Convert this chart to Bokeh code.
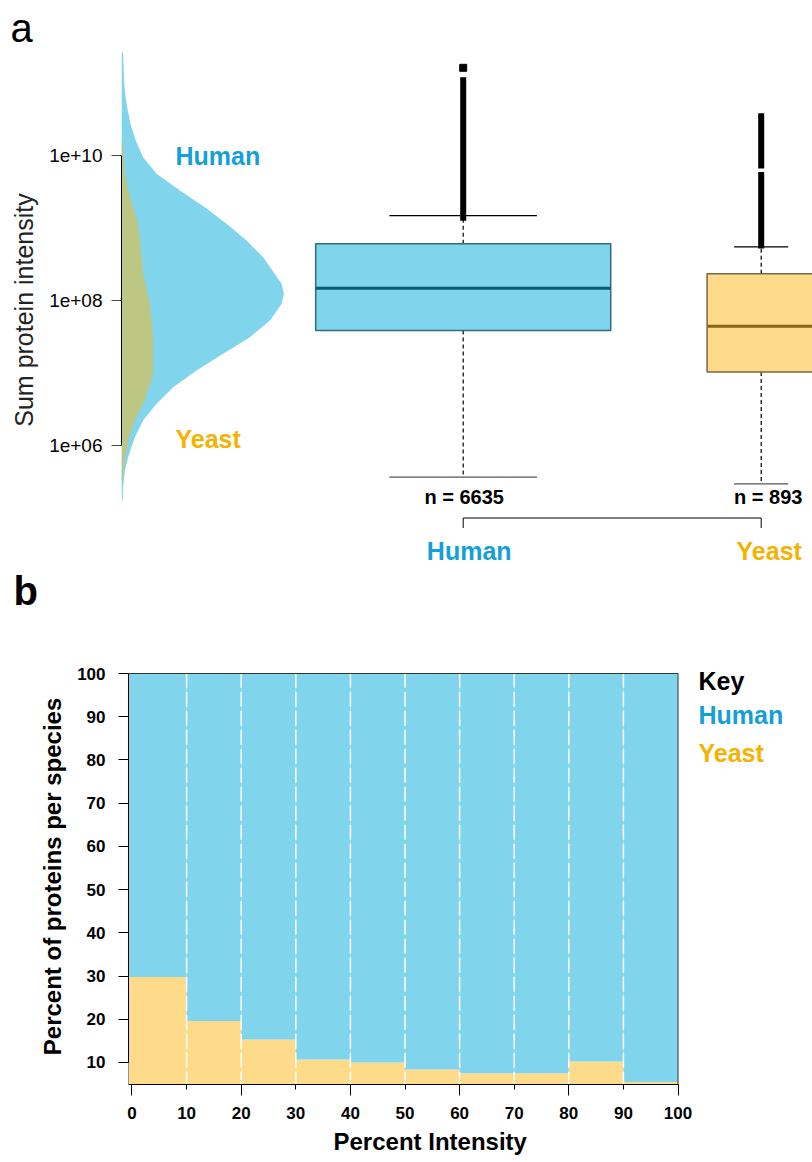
import math
from bokeh.plotting import figure
from bokeh.models import Range1d, LinearAxis, FixedTicker, Label, Title
from bokeh.embed import file_html
from bokeh.resources import INLINE

FONT = "Liberation Sans"

# ---------------- panel a data ----------------
species = ["Human", "Yeast"]
species_pos = [1, 2]
n_proteins = [6635, 893]
box_q1 = [3.86e7, 1.03e7]
box_median = [1.48e8, 4.41e7]
box_q3 = [6.05e8, 2.33e8]
whisker_low = [3.66e5, 2.96e5]
whisker_high = [1.48e9, 5.5e8]
human_outlier_runs_low = [1.26e9]
human_outlier_runs_high = [1.20e11]
human_outlier_points = [1.62e11]
yeast_outlier_runs_low = [5.2e8, 6.6e9]
yeast_outlier_runs_high = [5.9e9, 3.83e10]

# kernel densities (log10 intensity vs relative density)
human_log10 = [11.448, 11.403, 11.127, 10.897, 10.666, 10.437, 10.207, 9.977, 9.748, 9.517,
               9.287, 9.058, 8.828, 8.597, 8.368, 8.230, 8.092, 7.954, 7.724, 7.494,
               7.265, 7.034, 6.804, 6.575, 6.345, 6.114, 5.885, 5.655, 5.425, 5.241, 5.20]
human_density = [0.0, 0.010, 0.014, 0.020, 0.035, 0.055, 0.088, 0.133, 0.216, 0.359,
                  0.513, 0.647, 0.770, 0.872, 0.943, 0.986, 1.0, 0.986, 0.914, 0.791,
                  0.626, 0.462, 0.318, 0.216, 0.133, 0.082, 0.047, 0.020, 0.010, 0.006, 0.0]
yeast_log10 = [10.234, 10.207, 9.748, 9.517, 9.287, 9.058, 8.828, 8.597, 8.368, 7.954,
               7.494, 7.034, 6.897, 6.575, 6.345, 6.114, 5.885, 5.655, 5.472, 5.41]
yeast_density = [0.0, 0.006, 0.020, 0.041, 0.071, 0.102, 0.113, 0.123, 0.133, 0.174,
                 0.195, 0.195, 0.185, 0.133, 0.082, 0.047, 0.026, 0.010, 0.004, 0.0]

y_ticks_a = [1e6, 1e8, 1e10]
y_tick_labels_a = ["1e+06", "1e+08", "1e+10"]

# ---------------- panel b data ----------------
bin_edges = [0, 10, 20, 30, 40, 50, 60, 70, 80, 90, 100]
yeast_pct = [29.8, 19.6, 15.3, 10.7, 10.0, 8.4, 7.5, 7.5, 10.2, 5.5]
human_pct = [100 - v for v in yeast_pct]
y_ticks_b = [10, 20, 30, 40, 50, 60, 70, 80, 90, 100]
x_ticks_b = [0, 10, 20, 30, 40, 50, 60, 70, 80, 90, 100]

# ---------------- styles ----------------
C_HUMAN = "#80D4EB"
C_YEAST = "#FEDA8B"
C_OVERLAP = "#BEC684"
C_HUMAN_TXT = "#149FD7"
C_YEAST_TXT = "#F4B300"
C_HUMAN_MED = "#0D5B70"
C_YEAST_MED = "#8A6512"

W = 812

# ================= panel a =================
X0, X1 = -0.14664, 2.17215
p1 = figure(width=W, height=618, x_range=Range1d(X0, X1),
            y_range=Range1d(10 ** 4.30345, 10 ** 11.43448), y_axis_type="log",
            x_axis_location=None, output_backend="svg", toolbar_location=None,
            min_border_left=121, min_border_right=0, min_border_top=51, min_border_bottom=50)
p1.outline_line_color = None
p1.grid.visible = False

dens_scale = 0.545
hx = [X0 + d * dens_scale for d in human_density]
hy = [10 ** v for v in human_log10]
p1.patch([X0] + hx + [X0], [hy[0]] + hy + [hy[-1]], fill_color=C_HUMAN, line_color=None)
yx = [X0 + d * dens_scale for d in yeast_density]
yy = [10 ** v for v in yeast_log10]
p1.patch([X0] + yx + [X0], [yy[0]] + yy + [yy[-1]], fill_color=C_OVERLAP, line_color=None)

box_w_max = 0.99
box_w = [box_w_max * math.sqrt(n / max(n_proteins)) for n in n_proteins]
fills = [C_HUMAN, C_YEAST]
edges = ["#2E6C7E", "#7A6840"]
meds = [C_HUMAN_MED, C_YEAST_MED]
for i in range(2):
    c, w = species_pos[i], box_w[i]
    p1.segment(x0=[c, c], x1=[c, c], y0=[box_q3[i], box_q1[i]], y1=[whisker_high[i], whisker_low[i]],
               line_color="black", line_width=1.2, line_dash="4 3")
    p1.segment(x0=[c - w / 4], x1=[c + w / 4], y0=[whisker_high[i]], y1=[whisker_high[i]],
               line_color="black", line_width=1.2)
    p1.segment(x0=[c - w / 4], x1=[c + w / 4], y0=[whisker_low[i]], y1=[whisker_low[i]],
               line_color="#555555", line_width=1.2)
    p1.quad(left=[c - w / 2], right=[c + w / 2], bottom=[box_q1[i]], top=[box_q3[i]],
            fill_color=fills[i], line_color=edges[i], line_width=1.5)
    p1.segment(x0=[c - w / 2], x1=[c + w / 2], y0=[box_median[i]], y1=[box_median[i]],
               line_color=meds[i], line_width=3)

p1.segment(x0=[species_pos[0]] * len(human_outlier_runs_low), x1=[species_pos[0]] * len(human_outlier_runs_low),
           y0=human_outlier_runs_low, y1=human_outlier_runs_high, line_color="black", line_width=6)
p1.segment(x0=[species_pos[1]] * len(yeast_outlier_runs_low), x1=[species_pos[1]] * len(yeast_outlier_runs_low),
           y0=yeast_outlier_runs_low, y1=yeast_outlier_runs_high, line_color="black", line_width=6)
p1.scatter(x=[species_pos[0]] * len(human_outlier_points), y=human_outlier_points, size=7,
           marker="square", fill_color="black", line_color="black")

# group bracket (species axis)
bracket_y = 1.0e5
bracket_tick_y = 10 ** 4.862
p1.segment(x0=[species_pos[0]], x1=[species_pos[-1]], y0=[bracket_y], y1=[bracket_y],
           line_color="black", line_width=1)
p1.segment(x0=species_pos, x1=species_pos, y0=[bracket_y] * 2, y1=[bracket_tick_y] * 2,
           line_color="black", line_width=1)

ya = p1.yaxis[0]
ya.ticker = FixedTicker(ticks=y_ticks_a)
ya.bounds = (y_ticks_a[0], y_ticks_a[-1])
ya.major_label_overrides = {t: s for t, s in zip(y_ticks_a, y_tick_labels_a)}
ya.major_label_text_font = FONT
ya.major_label_text_font_size = "19px"
ya.major_label_text_color = "black"
ya.major_label_standoff = 9
ya.major_tick_out = 10
ya.major_tick_in = 0
ya.minor_tick_out = 0
ya.minor_tick_in = 0
ya.major_tick_line_color = "#444444"
ya.axis_line_color = "black"
ya.axis_label = "Sum protein intensity"
ya.axis_label_text_font = FONT
ya.axis_label_text_font_size = "25px"
ya.axis_label_text_font_style = "normal"
ya.axis_label_text_color = "#222222"
ya.axis_label_standoff = 8

n_offsets = [1, 7]
name_offsets = [6, 8]
for i in range(2):
    p1.add_layout(Label(x=species_pos[i], x_units="data", y=496.5, y_units="canvas", x_offset=n_offsets[i],
                        text=f"n = {n_proteins[i]}", text_font=FONT, text_font_style="bold",
                        text_font_size="20px", text_align="center", text_baseline="middle",
                        text_color="black"))
    p1.add_layout(Label(x=species_pos[i], x_units="data", y=550, y_units="canvas", x_offset=name_offsets[i],
                        text=species[i], text_font=FONT, text_font_style="bold",
                        text_font_size="25px", text_align="center", text_baseline="middle",
                        text_color=[C_HUMAN_TXT, C_YEAST_TXT][i]))

p1.add_layout(Label(x=175, y=155, x_units="canvas", y_units="canvas", text="Human", text_font=FONT,
                    text_font_style="bold", text_font_size="25px", text_color=C_HUMAN_TXT,
                    text_align="left", text_baseline="middle"))
p1.add_layout(Label(x=175, y=438, x_units="canvas", y_units="canvas", text="Yeast", text_font=FONT,
                    text_font_style="bold", text_font_size="25px", text_color=C_YEAST_TXT,
                    text_align="left", text_baseline="middle"))
p1.add_layout(Title(text="a", align="left", offset=-111, standoff=0, vertical_align="top",
                    text_font=FONT, text_font_size="40px", text_font_style="normal",
                    text_color="black"), "above")
p1.add_layout(Title(text="b", align="left", offset=-108, standoff=0, vertical_align="top",
                    text_font=FONT, text_font_size="40px", text_font_style="bold",
                    text_color="black"), "below")

# ================= panel b =================
XB0, XB1 = -0.641, 124.63
YB0, YB1 = 4.906, 101.16
p2 = figure(width=W, height=544, x_range=Range1d(XB0, XB1), y_range=Range1d(YB0, YB1),
            x_axis_location=None, output_backend="svg", toolbar_location=None,
            min_border_left=128, min_border_right=0, min_border_top=50, min_border_bottom=78)
p2.grid.visible = False
p2.outline_line_color = None

# first bar reaches the plot edge, as in the original barplot
bar_left = [XB0] + bin_edges[1:-1]
p2.quad(left=bar_left, right=bin_edges[1:], bottom=[0] * len(yeast_pct), top=yeast_pct,
        fill_color=C_YEAST, line_color=None)
p2.quad(left=bar_left, right=bin_edges[1:], bottom=yeast_pct, top=[100] * len(yeast_pct),
        fill_color=C_HUMAN, line_color=None)
inner = bin_edges[1:-1]
p2.segment(x0=inner, x1=inner, y0=[0] * len(inner), y1=[100] * len(inner),
           line_color="white", line_width=1.5, line_dash="15 4")
p2.quad(left=[XB0], right=[bin_edges[-1]], bottom=[YB0], top=[100],
        fill_color=None, line_color="#333333", line_width=1)

yb = p2.yaxis[0]
yb.ticker = FixedTicker(ticks=y_ticks_b)
yb.bounds = (y_ticks_b[0], y_ticks_b[-1])
yb.major_label_text_font = FONT
yb.major_label_text_font_style = "bold"
yb.major_label_text_font_size = "17px"
yb.major_label_text_color = "black"
yb.major_label_standoff = 13
yb.major_tick_out = 10
yb.major_tick_in = 0
yb.minor_tick_out = 0
yb.minor_tick_in = 0
yb.axis_line_color = "black"
yb.axis_label = "Percent of proteins per species"
yb.axis_label_text_font = FONT
yb.axis_label_text_font_style = "bold"
yb.axis_label_text_font_size = "24px"
yb.axis_label_text_color = "black"
yb.axis_label_standoff = 8

xb_ticks = LinearAxis(ticker=FixedTicker(ticks=x_ticks_b[::2], minor_ticks=x_ticks_b[1::2]),
                      bounds=(XB0, x_ticks_b[-1]),
                      major_tick_out=11, major_tick_in=0, minor_tick_out=5, minor_tick_in=0,
                      major_label_overrides={t: "" for t in x_ticks_b[::2]},
                      major_label_text_font_size="1px", major_label_standoff=0,
                      axis_line_color="black", major_tick_line_color="black",
                      minor_tick_line_color="black")
p2.add_layout(xb_ticks, "below")
xb_labels = LinearAxis(ticker=FixedTicker(ticks=x_ticks_b), bounds=(x_ticks_b[0], x_ticks_b[-1]),
                       major_tick_out=0, major_tick_in=0,
                       minor_tick_out=0, minor_tick_in=0, axis_line_color=None,
                       major_tick_line_color=None, major_label_standoff=11,
                       major_label_text_font=FONT, major_label_text_font_style="bold",
                       major_label_text_font_size="17px", major_label_text_color="black")
p2.add_layout(xb_labels, "below")
p2.add_layout(Title(text="Percent Intensity", align="left", offset=205, standoff=8, text_font=FONT,
                    text_font_size="24px", text_font_style="bold", text_color="black"), "below")

key_text = ["Key"] + species
key_colors = ["black", C_HUMAN_TXT, C_YEAST_TXT]
key_y = [62, 96, 134]
for t, c, yv in zip(key_text, key_colors, key_y):
    p2.add_layout(Label(x=698, y=yv, x_units="canvas", y_units="canvas", text=t, text_font=FONT,
                        text_font_style="bold", text_font_size="25px", text_color=c,
                        text_align="left", text_baseline="middle"))

open("out.html", "w").write(file_html([p1, p2], INLINE))
